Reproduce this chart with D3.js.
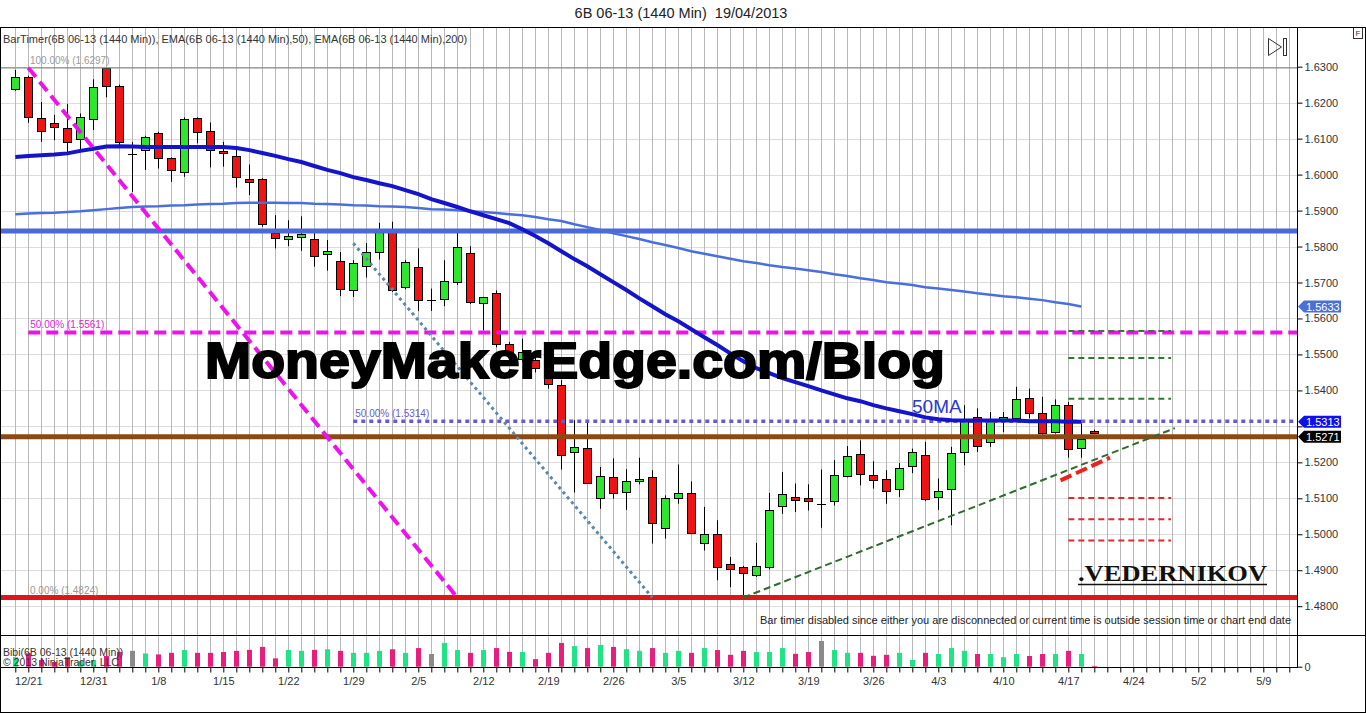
<!DOCTYPE html>
<html><head><meta charset="utf-8">
<script src="https://cdn.jsdelivr.net/npm/d3@7"></script>
<style>body{margin:0;background:#fff;}svg{display:block;font-family:"Liberation Sans",Arial,sans-serif;}</style>
</head><body><svg id="c" width="1366" height="713"></svg>
<script>
// ---------- DATA ----------
const dateTickIdx = [1,6,11,16,21,26,31,36,41,46,51,56,61,66,71,76,81,86,91,96];
const dateTickLabels = ["12/21","12/31","1/8","1/15","1/22","1/29","2/5","2/12","2/19","2/26","3/5","3/12","3/19","3/26","4/3","4/10","4/17","4/24","5/2","5/9"];
const priceTicks = [1.48,1.49,1.50,1.51,1.52,1.53,1.54,1.55,1.56,1.57,1.58,1.59,1.60,1.61,1.62,1.63];

const opens = [1.6239,1.6271,1.6156,1.6143,1.6129,1.6101,1.6156,1.6296,1.6246,1.6058,
1.6070,1.6115,1.6045,1.6008,1.6156,1.6122,1.6065,1.6052,1.5988,1.5989,
1.5838,1.5820,1.5828,1.5822,1.5778,1.5759,1.5679,1.5747,1.5785,1.5841,
1.5688,1.5742,1.5651,1.5654,1.5702,1.5781,1.5642,1.5672,1.5530,1.5487,
1.5484,1.5461,1.5416,1.5229,1.5241,1.5102,1.5158,1.5118,1.5149,1.5158,
1.5018,1.5102,1.5116,1.4978,1.5002,1.4916,1.4908,1.4887,1.4909,1.5078,
1.5105,1.5100,1.5085,1.5095,1.5163,1.5224,1.5166,1.5155,1.5124,1.5189,
1.5220,1.5102,1.5127,1.5227,1.5326,1.5257,1.5315,1.5324,1.5380,1.5338,
1.5284,1.5359,1.5241,1.5288];
const highs = [1.6291,1.6275,1.6202,1.6166,1.6196,1.6170,1.6265,1.6297,1.6250,1.6091,
1.6108,1.6119,1.6048,1.6159,1.6159,1.6145,1.6091,1.6073,1.6028,1.5990,
1.5887,1.5873,1.5884,1.5838,1.5818,1.5785,1.5762,1.5810,1.5866,1.5869,
1.5762,1.5795,1.5683,1.5762,1.5838,1.5801,1.5660,1.5678,1.5535,1.5544,
1.5493,1.5465,1.5429,1.5317,1.5312,1.5187,1.5211,1.5181,1.5213,1.5178,
1.5108,1.5194,1.5147,1.5076,1.5039,1.4937,1.4912,1.4976,1.5115,1.5173,
1.5141,1.5139,1.5180,1.5206,1.5245,1.5261,1.5203,1.5178,1.5198,1.5238,
1.5257,1.5155,1.5243,1.5359,1.5350,1.5340,1.5340,1.5410,1.5405,1.5382,
1.5375,1.5368,1.5308,1.5291];
const lows = [1.6233,1.6144,1.6091,1.6096,1.6063,1.6068,1.6124,1.6215,1.6082,1.5952,
1.6013,1.6017,1.5980,1.5994,1.6087,1.6020,1.6022,1.5964,1.5943,1.5855,
1.5795,1.5801,1.5788,1.5744,1.5733,1.5662,1.5660,1.5714,1.5764,1.5674,
1.5681,1.5621,1.5621,1.5634,1.5693,1.5640,1.5567,1.5520,1.5500,1.5480,
1.5450,1.5405,1.5180,1.5116,1.5140,1.5071,1.5099,1.5068,1.5139,1.4974,
1.4988,1.5085,1.5000,1.4955,1.4872,1.4853,1.4824,1.4881,1.4902,1.5057,
1.5062,1.5066,1.5018,1.5080,1.5158,1.5136,1.5127,1.5085,1.5104,1.5170,
1.5092,1.5068,1.5025,1.5192,1.5229,1.5243,1.5284,1.5317,1.5322,1.5266,
1.5280,1.5213,1.5213,1.5280];
const closes = [1.6271,1.6159,1.6120,1.6131,1.6090,1.6161,1.6244,1.6246,1.6091,1.6058,
1.6105,1.6045,1.6013,1.6154,1.6117,1.6070,1.6059,1.5994,1.5981,1.5864,
1.5823,1.5829,1.5835,1.5775,1.5787,1.5681,1.5753,1.5785,1.5841,1.5681,
1.5757,1.5649,1.5651,1.5704,1.5798,1.5644,1.5659,1.5530,1.5507,1.5507,
1.5461,1.5417,1.5222,1.5243,1.5145,1.5163,1.5113,1.5148,1.5155,1.5031,
1.5102,1.5116,1.5006,1.5002,1.4911,1.4903,1.4892,1.4913,1.5068,1.5111,
1.5096,1.5092,1.5085,1.5166,1.5218,1.5169,1.5152,1.5121,1.5183,1.5229,
1.5099,1.5120,1.5227,1.5317,1.5245,1.5315,1.5326,1.5377,1.5337,1.5283,
1.5359,1.5238,1.5266,1.5286];
const volumes = [48,68,34,24,48,28,34,54,75,80,
67,62,70,84,70,70,74,80,85,100,
42,84,80,85,88,80,70,70,80,88,
70,94,64,120,84,70,84,94,75,74,
38,70,120,104,94,110,100,88,80,94,
70,80,70,94,84,60,80,74,74,94,
65,74,130,84,70,70,55,60,70,34,
70,64,94,80,64,64,48,64,54,64,
64,80,64,4];
const ema50 = [1.6049,1.6052,1.6054,1.6056,1.6059,1.6066,1.6072,1.6078,1.6079,1.6078,
1.6077,1.6077,1.6077,1.6077,1.6077,1.6077,1.6077,1.6074,1.6068,1.6060,
1.6052,1.6043,1.6035,1.6024,1.6013,1.6004,1.5993,1.5985,1.5976,1.5968,
1.5957,1.5946,1.5932,1.5921,1.5910,1.5898,1.5887,1.5876,1.5865,1.5848,
1.5829,1.5809,1.5787,1.5765,1.5745,1.5723,1.5701,1.5679,1.5656,1.5634,
1.5612,1.5592,1.5570,1.5548,1.5526,1.5503,1.5481,1.5462,1.5448,1.5434,
1.5423,1.5412,1.5400,1.5389,1.5378,1.5370,1.5359,1.5350,1.5342,1.5334,
1.5325,1.5320,1.5317,1.5316,1.5316,1.5316,1.5316,1.5316,1.5314,1.5314,
1.5314,1.5313,1.5313];
const ema200 = [1.5890,1.5892,1.5893,1.5894,1.5896,1.5898,1.5901,1.5904,1.5907,1.5910,
1.5911,1.5912,1.5914,1.5915,1.5917,1.5918,1.5919,1.5921,1.5922,1.5922,
1.5922,1.5921,1.5921,1.5919,1.5918,1.5917,1.5915,1.5914,1.5912,1.5911,
1.5910,1.5907,1.5904,1.5903,1.5901,1.5898,1.5896,1.5893,1.5890,1.5887,
1.5882,1.5876,1.5871,1.5862,1.5854,1.5846,1.5837,1.5829,1.5821,1.5812,
1.5804,1.5796,1.5787,1.5780,1.5773,1.5766,1.5759,1.5754,1.5748,1.5743,
1.5739,1.5734,1.5729,1.5723,1.5718,1.5712,1.5707,1.5701,1.5697,1.5693,
1.5687,1.5683,1.5679,1.5675,1.5670,1.5666,1.5662,1.5659,1.5655,1.5651,
1.5645,1.5640,1.5633];

// drawing-tool values
const fibValues = [1.6297, 1.5561, 1.5314, 1.4824];
const fibLabels = ["100.00% (1.6297)", "50.00% (1.5561)", "50.00% (1.5314)", "0.00% (1.4824)"];
const fibStartIdx = [-1.2, 1, 26, -1.2];
const blueLevel = 1.5843;
const brownLevel = 1.5271;
const magentaTrend = [[1, 1.6297], [34, 1.4824]];
const dottedTrend = [[26, 1.5809], [49, 1.4824]];
const greenTrend = [[56, 1.4824], [89.2, 1.5295]];
const redSegment = [[80.4, 1.5150], [84.2, 1.5213]];
const greenTargets = [1.5565, 1.5490, 1.5377];
const redTargets = [1.5101, 1.5042, 1.4983];
const targetSpan = [81, 88.9];
const flagValues = [1.5633, 1.5313, 1.5271];
const flagTexts = ["1.5633", "1.5313", "1.5271"];

// ---------- SCALES ----------
const svg = d3.select("#c");
const x = d3.scaleLinear().domain([0, 98]).range([15.3, 15.3 + 13 * 98]);
const y = d3.scaleLinear().domain([1.48, 1.63]).range([606.2, 66.7]);
const yv = d3.scaleLinear().domain([0, 160]).range([666.7, 635]);
const R = v => Math.round(v) + 0.5;
const plotR = 1297;

svg.append("rect").attr("width", 1366).attr("height", 713).attr("fill", "#fff");

// title
svg.append("text").attr("x", 681).attr("y", 18).attr("text-anchor", "middle")
  .attr("font-size", 14.5).attr("fill", "#222").style("white-space", "pre").text("6B 06-13 (1440 Min)  19/04/2013");

// grid
const grid = svg.append("g");
grid.selectAll("line.h").data(priceTicks).join("line")
  .attr("x1", 1).attr("x2", plotR).attr("y1", d => R(y(d))).attr("y2", d => R(y(d)))
  .attr("stroke", "#dcdcdc");
grid.selectAll("line.v").data(d3.range(0, 99)).join("line")
  .attr("x1", d => R(x(d))).attr("x2", d => R(x(d))).attr("y1", 28).attr("y2", 667)
  .attr("stroke", "#b8b8b8");

// candles
const idx = d3.range(opens.length);
const cg = svg.append("g");
idx.forEach(i => {
  const cx = Math.round(x(i)) + 0.5;
  cg.append("line").attr("x1", cx).attr("x2", cx).attr("y1", y(highs[i])).attr("y2", y(lows[i]))
    .attr("stroke", "#000").attr("stroke-width", 1);
  if (opens[i] === closes[i]) {
    cg.append("line").attr("x1", cx - 4.5).attr("x2", cx + 4.5).attr("y1", R(y(opens[i]))).attr("y2", R(y(opens[i])))
      .attr("stroke", "#000");
  } else {
    const top = y(Math.max(opens[i], closes[i])), bot = y(Math.min(opens[i], closes[i]));
    cg.append("rect").attr("x", cx - 4).attr("y", Math.round(top) + 0.5).attr("width", 8)
      .attr("height", Math.max(2, Math.round(bot - top)))
      .attr("fill", closes[i] > opens[i] ? "#2fe62f" : "#ee1414").attr("stroke", "#000");
  }
});

// volume bars
svg.append("g").selectAll("rect").data(volumes).join("rect")
  .attr("x", (d, i) => Math.round(x(i)) - 2).attr("width", 5)
  .attr("y", d => yv(d)).attr("height", d => yv(0) - yv(d))
  .attr("fill", (d, i) => closes[i] > opens[i] ? "#1fe384" : closes[i] < opens[i] ? "#e91e7c" : "#8a8a8a");

// horizontal fib / levels
const lg = svg.append("g");
lg.append("line").attr("x1", x(fibStartIdx[0])).attr("x2", plotR).attr("y1", y(fibValues[0])).attr("y2", y(fibValues[0]))
  .attr("stroke", "#8c8c8c").attr("stroke-width", 1.2);
lg.append("line").attr("x1", 0).attr("x2", plotR).attr("y1", y(blueLevel)).attr("y2", y(blueLevel))
  .attr("stroke", "#4a6ad8").attr("stroke-width", 5);
lg.append("line").attr("x1", x(fibStartIdx[1])).attr("x2", plotR).attr("y1", y(fibValues[1])).attr("y2", y(fibValues[1]))
  .attr("stroke", "#ee11ee").attr("stroke-width", 4).attr("stroke-dasharray", "12,6");
lg.append("line").attr("x1", x(fibStartIdx[2])).attr("x2", plotR).attr("y1", y(fibValues[2])).attr("y2", y(fibValues[2]))
  .attr("stroke", "#6a5acd").attr("stroke-width", 3.5).attr("stroke-dasharray", "4,4");
lg.append("line").attr("x1", 0).attr("x2", plotR).attr("y1", y(brownLevel)).attr("y2", y(brownLevel))
  .attr("stroke", "#8b4a14").attr("stroke-width", 5);
lg.append("line").attr("x1", 0).attr("x2", plotR).attr("y1", y(fibValues[3])).attr("y2", y(fibValues[3]))
  .attr("stroke", "#dd1616").attr("stroke-width", 5);

// fib labels
const fibColors = ["#9a9a9a", "#dd22dd", "#6a5acd", "#9a9a9a"];
fibLabels.forEach((t, k) => {
  lg.append("text").attr("x", Math.max(30, x(fibStartIdx[k]) + 2)).attr("y", y(fibValues[k]) - 4)
    .attr("font-size", 10).attr("fill", fibColors[k]).text(t);
});

// EMAs
const line = d3.line().x((d, i) => x(i)).y(d => y(d));
svg.append("path").datum(ema200).attr("d", line).attr("fill", "none").attr("stroke", "#4a6fdc").attr("stroke-width", 2.5);
svg.append("path").datum(ema50).attr("d", line).attr("fill", "none").attr("stroke", "#1414c8").attr("stroke-width", 4);

// trend lines
const tl = d3.line().x(d => x(d[0])).y(d => y(d[1]));
svg.append("path").datum(magentaTrend).attr("d", tl).attr("stroke", "#ee11ee").attr("stroke-width", 4).attr("stroke-dasharray", "12,6").attr("fill", "none");
svg.append("path").datum(dottedTrend).attr("d", tl).attr("stroke", "#5a88aa").attr("stroke-width", 3).attr("stroke-dasharray", "3,3.5").attr("fill", "none");
svg.append("path").datum(greenTrend).attr("d", tl).attr("stroke", "#2f6a2f").attr("stroke-width", 2).attr("stroke-dasharray", "7,4").attr("fill", "none");
svg.append("path").datum(redSegment).attr("d", tl).attr("stroke", "#ee2020").attr("stroke-width", 4).attr("stroke-dasharray", "12,5").attr("fill", "none");
greenTargets.forEach(v => svg.append("line").attr("x1", x(targetSpan[0])).attr("x2", x(targetSpan[1]))
  .attr("y1", y(v)).attr("y2", y(v)).attr("stroke", "#2f7a2f").attr("stroke-width", 2).attr("stroke-dasharray", "6,4"));
redTargets.forEach(v => svg.append("line").attr("x1", x(targetSpan[0])).attr("x2", x(targetSpan[1]))
  .attr("y1", y(v)).attr("y2", y(v)).attr("stroke", "#e02a2a").attr("stroke-width", 2).attr("stroke-dasharray", "6,4"));

// texts on chart
svg.append("text").attr("x", 205).attr("y", 378).attr("font-size", 50).attr("font-weight", 900)
  .attr("fill", "#000").attr("stroke", "#000").attr("stroke-width", 2)
  .attr("textLength", 740).attr("lengthAdjust", "spacingAndGlyphs").text("MoneyMakerEdge.com/Blog");
svg.append("text").attr("x", 912).attr("y", 413).attr("font-size", 19).attr("fill", "#2a3acc").text("50MA");
svg.append("text").attr("x", 1078).attr("y", 581).attr("font-size", 24).attr("font-weight", "bold")
  .attr("font-family", "'Liberation Serif','Times New Roman',serif").attr("fill", "#111")
  .attr("textLength", 189).attr("lengthAdjust", "spacingAndGlyphs").text(".VEDERNIKOV");
svg.append("line").attr("x1", 1078).attr("x2", 1267).attr("y1", 584.5).attr("y2", 584.5).attr("stroke", "#111").attr("stroke-width", 1.5);
svg.append("text").attr("x", 1291).attr("y", 624).attr("text-anchor", "end").attr("font-size", 11).attr("fill", "#222")
  .attr("textLength", 531).attr("lengthAdjust", "spacing")
  .text("Bar timer disabled since either you are disconnected or current time is outside session time or chart end date");
svg.append("text").attr("x", 3).attr("y", 43).attr("font-size", 11).attr("fill", "#333")
  .text("BarTimer(6B 06-13 (1440 Min)), EMA(6B 06-13 (1440 Min),50), EMA(6B 06-13 (1440 Min),200)");
svg.append("text").attr("x", 3).attr("y", 655.5).attr("font-size", 10.5).attr("fill", "#333").text("Bibi(6B 06-13 (1440 Min))");
svg.append("text").attr("x", 3).attr("y", 665.5).attr("font-size", 10.5).attr("fill", "#333").text("© 2013 NinjaTrader, LLC");

// icon ▷|
svg.append("path").attr("d", "M1268.5,38.5 L1281.5,47 L1268.5,55.5 Z").attr("fill", "none").attr("stroke", "#333");
svg.append("rect").attr("x", 1283.5).attr("y", 38.5).attr("width", 3).attr("height", 17).attr("fill", "none").attr("stroke", "#333");
svg.append("rect").attr("x", 1353.5).attr("y", 27.5).attr("width", 9).attr("height", 11).attr("fill", "#fff").attr("stroke", "#333");
svg.append("text").attr("x", 1358).attr("y", 36).attr("text-anchor", "middle").attr("font-size", 8).attr("fill", "#333").text("F");

// axes
const ya = svg.append("g").attr("transform", `translate(${plotR + 0.5},0)`)
  .call(d3.axisRight(y).tickValues(priceTicks).tickFormat(d => Math.abs(d - 1.53) < 1e-9 ? "" : d3.format(".4f")(d)).tickSize(5).tickPadding(2));
ya.select(".domain").remove();
ya.selectAll("text").attr("font-size", 11).attr("fill", "#333").attr("font-family", "'Liberation Sans',Arial,sans-serif");
const va = svg.append("g").attr("transform", `translate(${plotR + 0.5},0)`)
  .call(d3.axisRight(yv).tickValues([0]).tickSize(5).tickPadding(2));
va.select(".domain").remove();
va.selectAll("text").attr("font-size", 11).attr("fill", "#333").attr("font-family", "'Liberation Sans',Arial,sans-serif");
const labelMap = new Map(dateTickIdx.map((d, k) => [d, dateTickLabels[k]]));
const xa = svg.append("g").attr("transform", "translate(0,667.5)")
  .call(d3.axisBottom(x).tickValues(d3.range(0, 99)).tickFormat(d => labelMap.get(d) || "").tickSize(5).tickPadding(5));
xa.select(".domain").remove();
xa.selectAll("text").attr("font-size", 11).attr("fill", "#333").attr("font-family", "'Liberation Sans',Arial,sans-serif");

// value flags
const flagFill = ["#4a70d8", "#1010ee", "#000"];
flagValues.forEach((v, k) => {
  const yy = y(v);
  svg.append("path").attr("d", `M${plotR + 1},${yy} L${plotR + 7},${yy - 6} L${plotR + 44},${yy - 6} L${plotR + 44},${yy + 6} L${plotR + 7},${yy + 6} Z`)
    .attr("fill", flagFill[k]);
  svg.append("text").attr("x", plotR + 9).attr("y", yy + 4).attr("font-size", 11).attr("fill", "#fff").text(flagTexts[k]);
});

// frames
const fr = svg.append("g").attr("stroke", "#000").attr("fill", "none");
fr.append("rect").attr("x", 0.5).attr("y", 27.5).attr("width", 1365).attr("height", 685);
fr.append("line").attr("x1", 0).attr("x2", 1366).attr("y1", 635.5).attr("y2", 635.5);
fr.append("line").attr("x1", 0).attr("x2", plotR).attr("y1", 667.5).attr("y2", 667.5);
fr.append("line").attr("x1", plotR + 0.5).attr("x2", plotR + 0.5).attr("y1", 27).attr("y2", 668);
</script></body></html>
